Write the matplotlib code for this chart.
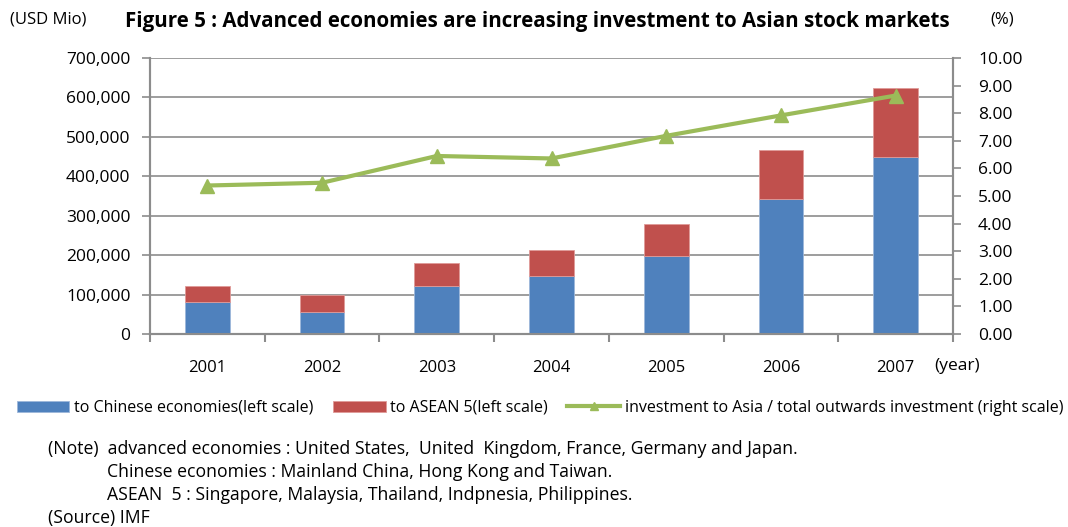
import numpy as np
import matplotlib.pyplot as plt
from matplotlib.ticker import FuncFormatter, FixedLocator

plt.rcParams["font.family"] = ["Open Sans", "DejaVu Sans"]

years = ["2001", "2002", "2003", "2004", "2005", "2006", "2007"]
to_chinese = [80000, 57000, 122000, 146000, 197000, 342000, 449000]
to_asean = [42000, 41000, 59000, 68000, 83000, 124000, 174000]
asia_share = [5.38, 5.48, 6.45, 6.36, 7.18, 7.92, 8.64]

blue = "#4F81BD"
red = "#C0504D"
green = "#9BBB59"
grid_c = "#8C8C8C"

fig = plt.figure(figsize=(10.68, 5.27), dpi=100)
ax = fig.add_axes([150 / 1068, 1 - 334 / 527, 803 / 1068, 276 / 527])
ax2 = ax.twinx()

x = np.arange(len(years))
w = 0.39
b1 = ax.bar(x, to_chinese, w, color=blue, edgecolor="#9DB7DA", linewidth=0.6, zorder=3,
            label="to Chinese economies(left scale)")
b2 = ax.bar(x, to_asean, w, bottom=to_chinese, color=red, edgecolor="#E09A98", linewidth=0.6,
            zorder=3, label="to ASEAN 5(left scale)")

ax2.plot(x, asia_share, color=green, lw=3, marker="^", ms=10, zorder=4,
         label="investment to Asia / total outwards investment (right scale)")

ax.set_xlim(-0.5, len(years) - 0.5)
ax.set_ylim(0, 700000)
ax.set_yticks(np.arange(0, 700001, 100000))
ax.yaxis.set_major_formatter(FuncFormatter(lambda v, p: f"{int(v):,}"))
ax.grid(axis="y", color=grid_c, lw=1.2, zorder=0)
ax.set_axisbelow(True)

ax2.set_ylim(0, 10)
ax2.set_yticks(np.arange(0, 10.01, 1))
ax2.yaxis.set_major_formatter(FuncFormatter(lambda v, p: f"{v:.2f}"))

ax.set_xticks(x)
ax.set_xticklabels(years)
ax.xaxis.set_minor_locator(FixedLocator(np.arange(-0.5, len(years), 1)))
ax.tick_params(axis="x", which="major", length=0, pad=19, labelsize=12)
ax.tick_params(axis="x", which="minor", length=6, width=1.5, color=grid_c)
ax.tick_params(axis="y", length=6, width=1.2, color=grid_c, labelsize=12.5, pad=8)
ax2.tick_params(axis="y", length=6, width=1.2, color=grid_c, labelsize=12.5, pad=12)

for a in (ax, ax2):
    a.spines["top"].set_visible(False)
    for s in ["left", "right", "bottom"]:
        a.spines[s].set_color(grid_c)
        a.spines[s].set_linewidth(1.5)

fig.text(10 / 1068, 1 - 20 / 527, "(USD Mio)", fontsize=12, va="center")
fig.text(990 / 1068, 1 - 20 / 527, "(%)", fontsize=12, va="center")
fig.text(537 / 1068, 1 - 21 / 527,
         "Figure 5 : Advanced economies are increasing investment to Asian stock markets",
         fontsize=14.8, fontweight="bold", ha="center", va="center")
fig.text(934 / 1068, 1 - 366 / 527, "(year)", fontsize=12.5, va="center")

handles = [b1, b2, ax2.get_lines()[0]]
fig.legend(handles, [h.get_label() for h in handles], loc="center",
           bbox_to_anchor=(540 / 1068, 1 - 408 / 527), ncol=3, frameon=False,
           fontsize=11.5, handlelength=3.3, handletextpad=0.3, columnspacing=1.2,
           markerscale=0.6)

notes = [
    (48, 449, "(Note)  advanced economies : United States,  United  Kingdom, France, Germany and Japan."),
    (107, 472, "Chinese economies : Mainland China, Hong Kong and Taiwan."),
    (107, 495, "ASEAN  5 : Singapore, Malaysia, Thailand, Indpnesia, Philippines."),
    (48, 518, "(Source) IMF"),
]
for nx, ny, t in notes:
    fig.text(nx / 1068, 1 - ny / 527, t, fontsize=12.7, va="center")

fig.savefig("out.png", dpi=100)
